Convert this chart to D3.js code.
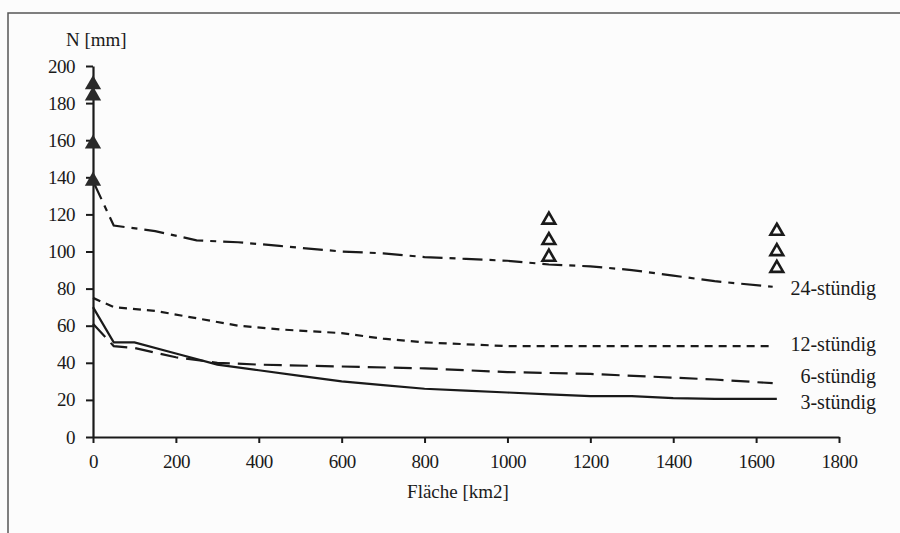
<!DOCTYPE html>
<html>
<head>
<meta charset="utf-8">
<script src="https://cdn.jsdelivr.net/npm/d3@7"></script>
<style>
  body { margin: 0; background: #fcfcfc; }
</style>
</head>
<body>
<svg id="chart"></svg>
<script>
// series: [Fläche km2, N mm]
const h3 = [[0,70],[50,51],[100,51],[200,45],[300,39],[400,36],[500,33],[600,30],[700,28],[800,26],[900,25],[1000,24],[1100,23],[1200,22],[1300,22],[1400,21],[1500,20.5],[1650,20.5]]
const h6 = [[0,61],[50,49],[100,48],[200,43],[300,40],[400,39],[600,38],[800,37],[1000,35],[1200,34],[1400,32],[1500,31],[1640,29]]
const h12 = [[0,75],[50,70],[150,68],[250,64],[350,60],[450,58],[600,56],[700,53],[800,51],[900,50],[1000,49],[1200,49],[1400,49],[1640,49]]
const h24 = [[0,138],[50,114],[150,111],[250,106],[350,105],[450,103],[600,100],[700,99],[800,97],[900,96],[1000,95],[1100,93],[1200,92],[1300,90],[1400,87],[1500,84],[1640,81]]

const filledTri = [[0,190],[0,184],[0,158],[0,138]]
const hollowTri = [[1100,117],[1100,106],[1100,97],[1650,111],[1650,100],[1650,91]]

const seriesNames = ['3-stündig','6-stündig','12-stündig','24-stündig']
const xTicks = [0,200,400,600,800,1000,1200,1400,1600,1800]
const yTicks = [0,20,40,60,80,100,120,140,160,180,200]

const width = 900
const height = 533
const FONT = '"Liberation Serif", "Times New Roman", serif'
const INK = '#1a1a1a'

const svg = d3.select('#chart')
  .attr('width', width)
  .attr('height', height)

// frame round the figure (runs off right and bottom)
svg.append('rect')
  .attr('x', 8).attr('y', 13)
  .attr('width', 950).attr('height', 600)
  .attr('fill', 'none')
  .attr('stroke', '#555')
  .attr('stroke-width', 1.5)

const x = d3.scaleLinear().domain([0,1800]).range([93,839])
const y = d3.scaleLinear().domain([0,200]).range([437,66])

// axes
const xAxis = svg.append('g')
  .attr('transform', `translate(0,${y(0)})`)
  .call(d3.axisBottom(x).tickValues(xTicks).tickFormat(d3.format('d'))
    .tickSize(6).tickPadding(12).tickSizeOuter(0))
const yAxis = svg.append('g')
  .attr('transform', `translate(${x(0)},0)`)
  .call(d3.axisLeft(y).tickValues(yTicks).tickFormat(d3.format('d'))
    .tickSize(7).tickPadding(11).tickSizeOuter(0))

for (const g of [xAxis, yAxis]) {
  g.attr('font-family', FONT)
  g.select('.domain').attr('stroke', INK).attr('stroke-width', 2.2)
  g.selectAll('.tick line').attr('stroke', INK).attr('stroke-width', 2)
  g.selectAll('.tick text')
    .style('font-family', FONT)
    .attr('font-size', 19)
    .attr('fill', INK)
    .style('letter-spacing', '-0.5px')
}

svg.append('text')
  .attr('x', 66).attr('y', 46)
  .style('font-family', FONT)
  .attr('font-size', 19)
  .attr('fill', INK)
  .text('N [mm]')

svg.append('text')
  .attr('x', 458).attr('y', 498)
  .attr('text-anchor', 'middle')
  .style('font-family', FONT)
  .attr('font-size', 19)
  .attr('fill', INK)
  .text('Fläche [km2]')

const line = d3.line()
  .x(d => x(d[0]))
  .y(d => y(d[1]))

const allSeries = [h3, h6, h12, h24]
const dashes = [null, '18,8', '8,6', '20,7,6,7']

allSeries.forEach((s, i) => {
  svg.append('path')
    .datum(s)
    .attr('d', line)
    .attr('fill', 'none')
    .attr('stroke', INK)
    .attr('stroke-width', 2.2)
    .attr('stroke-dasharray', dashes[i])
})

// series labels at the right end
const labelY = [409, 383, 351, 295]
seriesNames.forEach((name, i) => {
  svg.append('text')
    .attr('x', 876).attr('y', labelY[i])
    .attr('text-anchor', 'end')
    .style('font-family', FONT)
    .attr('font-size', 20)
    .attr('fill', INK)
    .text(name)
})

const tri = d3.symbol().type(d3.symbolTriangle)

svg.selectAll('path.filled')
  .data(filledTri)
  .join('path')
    .attr('class', 'filled')
    .attr('d', tri.size(115))
    .attr('transform', d => `translate(${x(d[0])},${y(d[1])})`)
    .attr('fill', '#2a2a2a')

svg.selectAll('path.hollow')
  .data(hollowTri)
  .join('path')
    .attr('class', 'hollow')
    .attr('d', tri.size(70))
    .attr('transform', d => `translate(${x(d[0])},${y(d[1])})`)
    .attr('fill', '#fcfcfc')
    .attr('stroke', INK)
    .attr('stroke-width', 2.6)
</script>
</body>
</html>
